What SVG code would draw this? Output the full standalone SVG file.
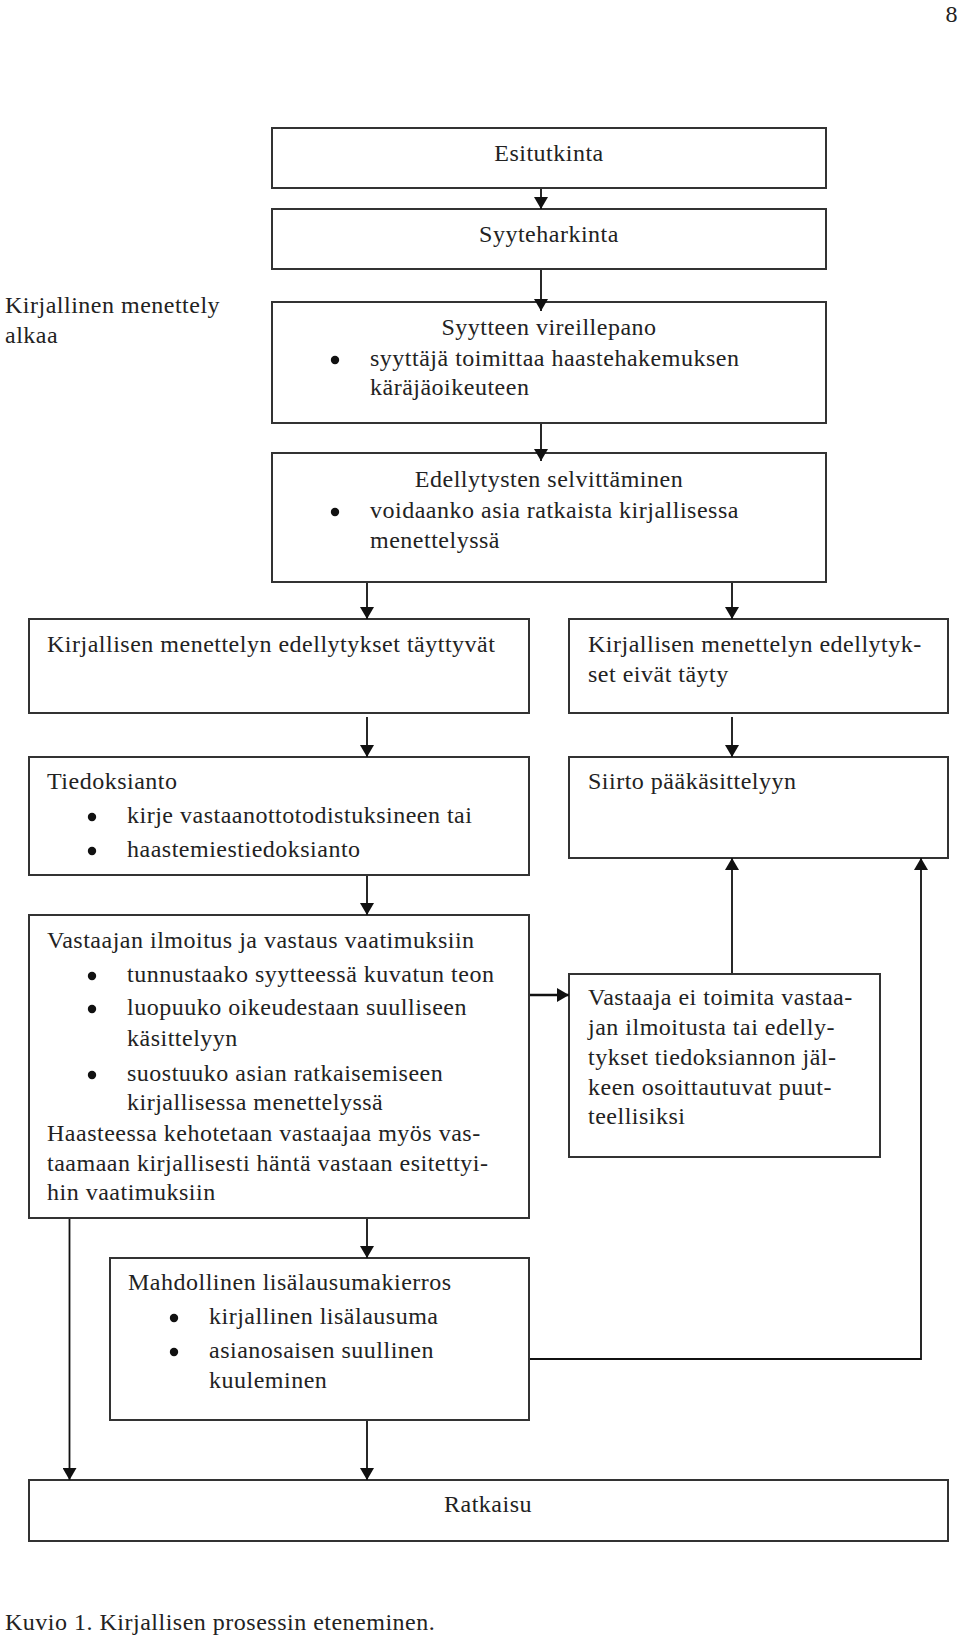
<svg xmlns="http://www.w3.org/2000/svg" width="960" height="1640" viewBox="0 0 960 1640">
<defs>
<style>
text{font-family:"Liberation Serif","Times New Roman",serif;font-size:24px;letter-spacing:0.5px;fill:#222}
.c{text-anchor:middle}
.box{fill:#fff;stroke:#333;stroke-width:2}
.ln{fill:none;stroke:#111;stroke-width:1.8}
.bul{fill:#111}
</style>
<marker id="ah" viewBox="0 0 12 14" refX="12" refY="7" markerWidth="12" markerHeight="14" markerUnits="userSpaceOnUse" orient="auto">
<path d="M0,0 L12,7 L0,14 z" fill="#111"/>
</marker>
</defs>
<rect width="960" height="1640" fill="#fff"/>
<text x="958" y="22" style="text-anchor:end">8</text>
<g id="start-label">
<text x="5" y="313">Kirjallinen menettely</text>
<text x="5" y="343">alkaa</text>
</g>
<g id="esitutkinta">
<rect class="box" x="272" y="128" width="554" height="60"/>
<text class="c" x="549" y="161">Esitutkinta</text>
</g>
<g id="syyteharkinta">
<rect class="box" x="272" y="209" width="554" height="60"/>
<text class="c" x="549" y="242">Syyteharkinta</text>
</g>
<g id="syytteen-vireillepano">
<rect class="box" x="272" y="302" width="554" height="121"/>
<text class="c" x="549" y="335">Syytteen vireillepano</text>
<circle class="bul" cx="335" cy="360" r="4.2"/>
<text x="370" y="366">syyttäjä toimittaa haastehakemuksen</text>
<text x="370" y="395">käräjäoikeuteen</text>
</g>
<g id="edellytysten-selvittaminen">
<rect class="box" x="272" y="453" width="554" height="129"/>
<text class="c" x="549" y="487">Edellytysten selvittäminen</text>
<circle class="bul" cx="335" cy="512" r="4.2"/>
<text x="370" y="518">voidaanko asia ratkaista kirjallisessa</text>
<text x="370" y="548">menettelyssä</text>
</g>
<g id="edellytykset-tayttyvat">
<rect class="box" x="29" y="619" width="500" height="94"/>
<text x="47" y="652">Kirjallisen menettelyn edellytykset täyttyvät</text>
</g>
<g id="edellytykset-eivat-tayty">
<rect class="box" x="569" y="619" width="379" height="94"/>
<text x="588" y="652">Kirjallisen menettelyn edellytyk-</text>
<text x="588" y="682">set eivät täyty</text>
</g>
<g id="tiedoksianto">
<rect class="box" x="29" y="757" width="500" height="118"/>
<text x="47" y="789">Tiedoksianto</text>
<circle class="bul" cx="92" cy="817" r="4.2"/>
<text x="127" y="823">kirje vastaanottotodistuksineen tai</text>
<circle class="bul" cx="92" cy="851" r="4.2"/>
<text x="127" y="857">haastemiestiedoksianto</text>
</g>
<g id="siirto-paakasittelyyn">
<rect class="box" x="569" y="757" width="379" height="101"/>
<text x="588" y="789">Siirto pääkäsittelyyn</text>
</g>
<g id="vastaajan-ilmoitus">
<rect class="box" x="29" y="915" width="500" height="303"/>
<text x="47" y="948">Vastaajan ilmoitus ja vastaus vaatimuksiin</text>
<circle class="bul" cx="92" cy="976" r="4.2"/>
<text x="127" y="982">tunnustaako syytteessä kuvatun teon</text>
<circle class="bul" cx="92" cy="1009" r="4.2"/>
<text x="127" y="1015">luopuuko oikeudestaan suulliseen</text>
<text x="127" y="1046">käsittelyyn</text>
<circle class="bul" cx="92" cy="1075" r="4.2"/>
<text x="127" y="1081">suostuuko asian ratkaisemiseen</text>
<text x="127" y="1110">kirjallisessa menettelyssä</text>
<text x="47" y="1141">Haasteessa kehotetaan vastaajaa myös vas-</text>
<text x="47" y="1171">taamaan kirjallisesti häntä vastaan esitettyi-</text>
<text x="47" y="1200">hin vaatimuksiin</text>
</g>
<g id="vastaaja-ei-toimita">
<rect class="box" x="569" y="974" width="311" height="183"/>
<text x="588" y="1005">Vastaaja ei toimita vastaa-</text>
<text x="588" y="1035">jan ilmoitusta tai edelly-</text>
<text x="588" y="1065">tykset tiedoksiannon jäl-</text>
<text x="588" y="1095">keen osoittautuvat puut-</text>
<text x="588" y="1124">teellisiksi</text>
</g>
<g id="lisalausumakierros">
<rect class="box" x="110" y="1258" width="419" height="162"/>
<text x="128" y="1290">Mahdollinen lisälausumakierros</text>
<circle class="bul" cx="174" cy="1318" r="4.2"/>
<text x="209" y="1324">kirjallinen lisälausuma</text>
<circle class="bul" cx="174" cy="1352" r="4.2"/>
<text x="209" y="1358">asianosaisen suullinen</text>
<text x="209" y="1388">kuuleminen</text>
</g>
<g id="ratkaisu">
<rect class="box" x="29" y="1480" width="919" height="61"/>
<text class="c" x="488" y="1512">Ratkaisu</text>
</g>
<g id="connectors">
<line class="ln" x1="541" y1="189" x2="541" y2="209" marker-end="url(#ah)"/>
<line class="ln" x1="541" y1="270" x2="541" y2="311" marker-end="url(#ah)"/>
<line class="ln" x1="541" y1="424" x2="541" y2="461" marker-end="url(#ah)"/>
<line class="ln" x1="367" y1="583" x2="367" y2="619" marker-end="url(#ah)"/>
<line class="ln" x1="732" y1="583" x2="732" y2="619" marker-end="url(#ah)"/>
<line class="ln" x1="367" y1="717" x2="367" y2="757" marker-end="url(#ah)"/>
<line class="ln" x1="732" y1="717" x2="732" y2="757" marker-end="url(#ah)"/>
<line class="ln" x1="367" y1="876" x2="367" y2="915" marker-end="url(#ah)"/>
<line class="ln" x1="530" y1="995" x2="569" y2="995" style="stroke-width:2.6" marker-end="url(#ah)"/>
<line class="ln" x1="732" y1="973" x2="732" y2="858" marker-end="url(#ah)"/>
<polyline class="ln" points="530,1359 921,1359 921,858" marker-end="url(#ah)"/>
<line class="ln" x1="367" y1="1219" x2="367" y2="1258" marker-end="url(#ah)"/>
<line class="ln" x1="69.5" y1="1219" x2="69.5" y2="1480" marker-end="url(#ah)"/>
<line class="ln" x1="367" y1="1421" x2="367" y2="1480" marker-end="url(#ah)"/>
</g>
<text x="5" y="1630">Kuvio 1. Kirjallisen prosessin eteneminen.</text>
</svg>
